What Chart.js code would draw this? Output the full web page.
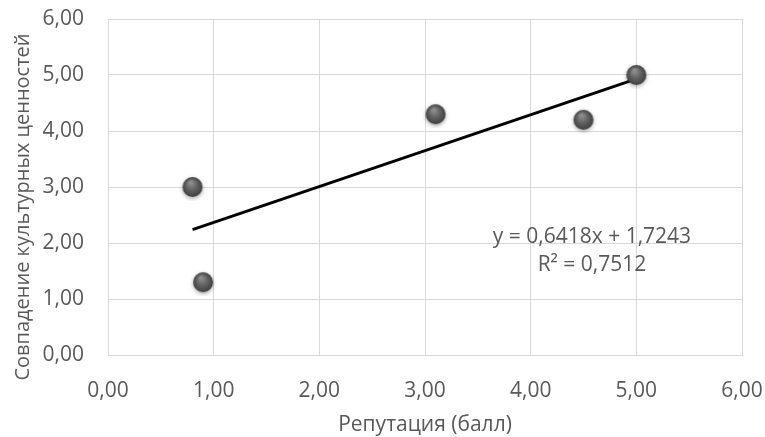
<!DOCTYPE html>
<html>
<head>
<meta charset="utf-8">
<script src="https://cdn.jsdelivr.net/npm/chart.js@4"></script>
<style>
  html, body { margin: 0; padding: 0; background: #fff; }
  #wrap { width: 765px; height: 437px; }
</style>
</head>
<body>
<div id="wrap"><canvas id="scatterChart" width="765" height="437"></canvas></div>
<script>
// values
const reputation = [0.8, 0.9, 3.1, 4.5, 5.0];
const valuesMatch = [3.0, 1.3, 4.3, 4.2, 5.0];
const trendX = [0.8, 5.0];
const trendY = [2.24, 4.93];
const equationLines = ['y = 0,6418x + 1,7243', 'R² = 0,7512'];
const xTitle = 'Репутация (балл)';
const yTitle = 'Совпадение культурных ценностей';

const textColor = '#595959';
const gridColor = '#d9d9d9';
const fontFamily = '"Open Sans", "Liberation Sans", sans-serif';

// grey "ball" marker like the Excel preset
function makeBall(r) {
  const pad = 4;
  const size = (r + pad) * 2;
  const c = document.createElement('canvas');
  c.width = size;
  c.height = size;
  const g = c.getContext('2d');
  const cx = size / 2, cy = size / 2;
  g.shadowColor = 'rgba(0,0,0,0.35)';
  g.shadowBlur = 4;
  g.shadowOffsetY = 1.5;
  const grad = g.createRadialGradient(cx - r * 0.2, cy - r * 0.45, r * 0.1, cx, cy, r);
  grad.addColorStop(0, '#8e8e8e');
  grad.addColorStop(0.55, '#5e5e5e');
  grad.addColorStop(1, '#404040');
  g.fillStyle = grad;
  g.beginPath();
  g.arc(cx, cy, r, 0, Math.PI * 2);
  g.fill();
  return c;
}

const ball = makeBall(10);

const comma = v => v.toFixed(2).replace('.', ',');

// equation label and axis titles
const extraText = {
  id: 'extraText',
  afterDatasetsDraw(chart) {
    const { ctx, scales, chartArea } = chart;
    ctx.save();
    ctx.fillStyle = textColor;
    ctx.font = '21px ' + fontFamily;
    ctx.textAlign = 'center';
    ctx.textBaseline = 'middle';

    const ex = scales.x.getPixelForValue(4.58);
    const ey = scales.y.getPixelForValue(2.11);
    ctx.fillText(equationLines[0], ex, ey);
    ctx.fillText(equationLines[1], ex, ey + 28);

    const cx = (chartArea.left + chartArea.right) / 2;
    ctx.fillText(xTitle, cx, 425);

    ctx.font = '20px ' + fontFamily;
    ctx.translate(23, 207);
    ctx.rotate(-Math.PI / 2);
    ctx.fillText(yTitle, 0, 0);
    ctx.restore();
  }
};

const ctx = document.getElementById('scatterChart').getContext('2d');

new Chart(ctx, {
  type: 'scatter',
  data: {
    datasets: [
      {
        label: 'data',
        data: reputation.map((x, i) => ({ x, y: valuesMatch[i] })),
        pointStyle: ball,
        pointRadius: 10,
        order: 1
      },
      {
        type: 'line',
        label: 'trend',
        data: trendX.map((x, i) => ({ x, y: trendY[i] })),
        borderColor: '#000',
        borderWidth: 3,
        pointRadius: 0,
        fill: false,
        order: 2
      }
    ]
  },
  options: {
    responsive: false,
    animation: false,
    events: [],
    layout: { autoPadding: false, padding: { top: 19, right: 23, left: 0, bottom: 0 } },
    plugins: {
      legend: { display: false },
      tooltip: { enabled: false }
    },
    scales: {
      x: {
        type: 'linear',
        min: 0,
        max: 6,
        ticks: {
          stepSize: 1,
          color: textColor,
          font: { family: fontFamily, size: 21 },
          padding: 23,
          maxRotation: 0,
          callback: v => comma(v)
        },
        grid: { color: gridColor, drawTicks: false, lineWidth: 1 },
        border: { color: gridColor },
        afterFit: s => {
          s.height = 82;
          s.paddingLeft = 0;
          s.paddingRight = 0;
        }
      },
      y: {
        type: 'linear',
        min: 0,
        max: 6,
        ticks: {
          stepSize: 1,
          color: textColor,
          font: { family: fontFamily, size: 21 },
          padding: 24,
          callback: v => comma(v)
        },
        grid: { color: gridColor, drawTicks: false, lineWidth: 1 },
        border: { color: gridColor },
        afterFit: s => {
          s.width = 108;
          s.paddingTop = 0;
          s.paddingBottom = 0;
        }
      }
    }
  },
  plugins: [extraText]
});
</script>
</body>
</html>
